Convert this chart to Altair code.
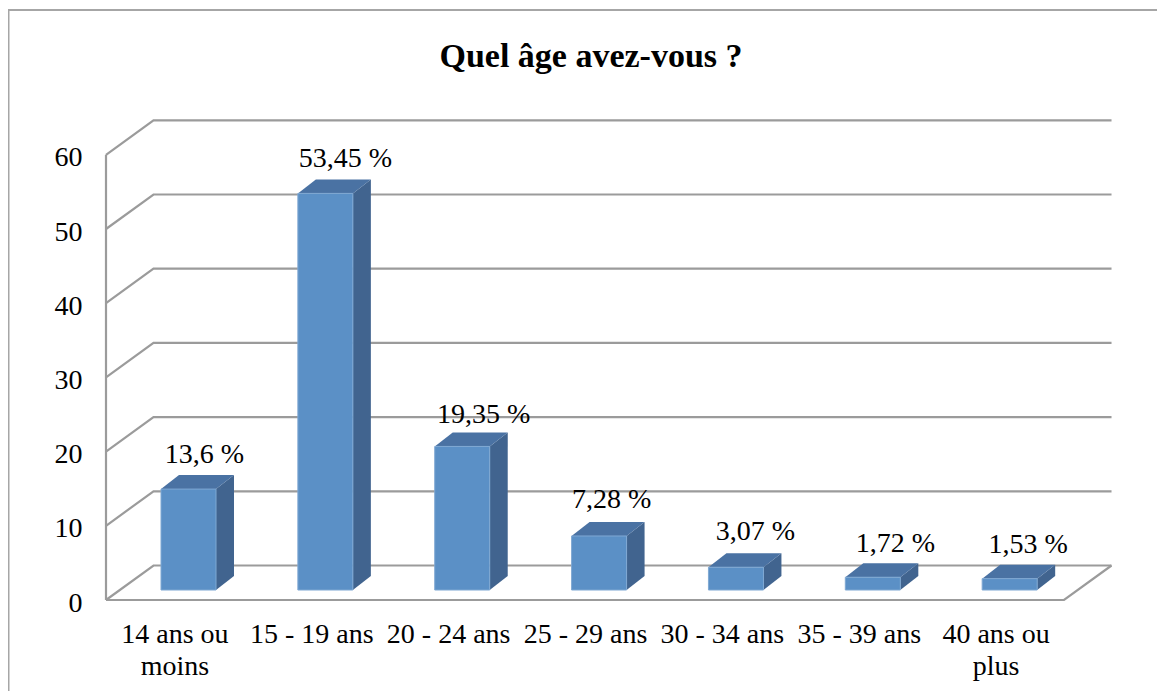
import json
import altair as alt
import pandas as pd

categories = ["14 ans ou\nmoins", "15 - 19 ans", "20 - 24 ans", "25 - 29 ans",
              "30 - 34 ans", "35 - 39 ans", "40 ans ou\nplus"]
values = [13.6, 53.45, 19.35, 7.28, 3.07, 1.72, 1.53]
value_labels = ["13,6 %", "53,45 %", "19,35 %", "7,28 %", "3,07 %", "1,72 %", "1,53 %"]
y_ticks = [0, 10, 20, 30, 40, 50, 60]
title_text = "Quel âge avez-vous ?"

# pixel-per-unit of the two scales
PX = 136.86
PY = 7.42
W, H = 1006, 480
FONT = "Liberation Serif"
GRID = "#9b9b9b"

wall_dx, wall_dy = 47.5 / PX, 34.5 / PY      # depth of the floor
bar_in_dy = 10 / PY                          # bar front inset from the front edge
bar_dx, bar_dy = 18 / PX, 14 / PY            # bar depth
bar_left, bar_w = 55 / PX, 55 / PX

label_nudge_x = [16, 20, 21.5, 12.5, 19.5, 22.5, 18.5]
label_nudge_y = [12, 12, 9, 14, 13, 11, 12]

xs = alt.Scale(domain=[0, W / PX], nice=False, zero=False)
ys = alt.Scale(domain=[0, H / PY], nice=False, zero=False)

grid_rows = []
for v in y_ticks:
    grid_rows += [
        dict(id=v, o=0, x=0, y=v),
        dict(id=v, o=1, x=wall_dx, y=v + wall_dy),
        dict(id=v, o=2, x=7 + wall_dx, y=v + wall_dy),
    ]
grid_rows += [
    dict(id=100, o=0, x=0, y=0), dict(id=100, o=1, x=7, y=0),
    dict(id=100, o=2, x=7 + wall_dx, y=wall_dy),
    dict(id=101, o=0, x=0, y=0), dict(id=101, o=1, x=0, y=60),
]
grid_df = pd.DataFrame(grid_rows)

frame_df = pd.DataFrame([
    dict(o=0, x=(8.5 - 106) / PX, y=(600 - 691) / PY),
    dict(o=1, x=(8.5 - 106) / PX, y=(600 - 10) / PY),
    dict(o=2, x=(1157 - 106) / PX, y=(600 - 10) / PY),
])

front, side, top, labels = [], [], [], []
for i, (v, t) in enumerate(zip(values, value_labels)):
    x0 = i + bar_left
    x1 = x0 + bar_w
    y0 = bar_in_dy
    y1 = y0 + v
    front.append(dict(x=x0, x2=x1, y=y0, y2=y1))
    side += [dict(id=i, x=x1, y=y0, y2=y1),
             dict(id=i, x=x1 + bar_dx, y=y0 + bar_dy, y2=y1 + bar_dy)]
    top += [dict(id=i, x=x0, x2=x1, y=y1),
            dict(id=i, x=x0 + bar_dx, x2=x1 + bar_dx, y=y1 + bar_dy)]
    labels.append(dict(x=(x0 + x1) / 2 + label_nudge_x[i] / PX,
                       y=y1 + bar_dy + label_nudge_y[i] / PY, t=t))

expr = f"split({json.dumps(categories)}[round(datum.value - 0.5)], '\\n')"
x_axis = alt.Axis(
    values=[i + 0.5 for i in range(7)], labelExpr=expr, domain=False, ticks=False, title=None,
    grid=False, labelFont=FONT, labelFontSize=28, labelColor="#000", labelPadding=20,
    labelLineHeight=32, labelOverlap=False, labelFlush=False, labelBound=False, labelAngle=0)
y_axis = alt.Axis(
    values=y_ticks, domain=False, ticks=False, grid=False, title=None, labelFont=FONT, labelFontSize=28,
    labelColor="#000", labelPadding=24, labelOffset=3, labelOverlap=False, labelFlush=False, labelBound=False)

X = lambda f="x": alt.X(f"{f}:Q", scale=xs, axis=x_axis)
Y = lambda f="y": alt.Y(f"{f}:Q", scale=ys, axis=y_axis)

frame = alt.Chart(frame_df).mark_line(color="#a6a6a6", strokeWidth=2, clip=False).encode(
    x=X(), y=Y(), order="o:Q")
grid = alt.Chart(grid_df).mark_line(color=GRID, strokeWidth=2.2, strokeJoin="miter").encode(
    x=X(), y=Y(), detail="id:N", order="o:Q")
side_m = alt.Chart(pd.DataFrame(side)).mark_area(color="#41648F").encode(
    x=X(), y=Y(), y2="y2:Q", detail="id:N")
top_m = alt.Chart(pd.DataFrame(top)).mark_area(color="#4A72A3", orient="horizontal").encode(
    x=X(), x2="x2:Q", y=Y(), detail="id:N")
front_m = alt.Chart(pd.DataFrame(front)).mark_rect(color="#5B90C6", stroke="#7FA8D3", strokeWidth=1).encode(
    x=X(), x2="x2:Q", y=Y(), y2="y2:Q")
text_m = alt.Chart(pd.DataFrame(labels)).mark_text(
    font=FONT, fontSize=28, color="#000", align="center", baseline="alphabetic").encode(
    x=X(), y=Y(), text="t:N")

chart = alt.layer(frame, grid, side_m, top_m, front_m, text_m).properties(
    width=W, height=H,
    padding={"left": 98, "top": 112, "right": 45, "bottom": 91},
    autosize=alt.AutoSizeParams(type="none"),
    title=alt.TitleParams(title_text, font=FONT, fontSize=34, fontWeight="bold", color="#000",
                          anchor="middle", dx=-18, offset=-95, baseline="alphabetic"),
    background="white",
).configure_view(stroke=None)

chart.save("out.html", embed_options={"renderer": "svg", "actions": False})
